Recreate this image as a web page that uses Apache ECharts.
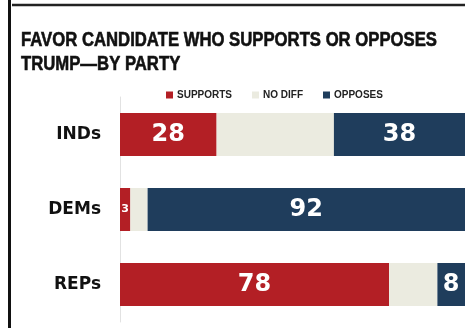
<!DOCTYPE html>
<html><head><meta charset="utf-8">
<script src="https://cdn.jsdelivr.net/npm/echarts@6/dist/echarts.min.js"></script>
<style>html,body{margin:0;padding:0;background:#fff}#c{width:465px;height:328px}</style>
</head><body><div id="c"></div>
<script>
const titleText = "FAVOR CANDIDATE WHO SUPPORTS OR OPPOSES\nTRUMP\u2014BY PARTY";
const categories = ["INDs", "DEMs", "REPs"];
const supports = [28, 3, 78];
const noDiff = [34, 5, 14];
const opposes = [38, 92, 8];
const seriesNames = ["SUPPORTS", "NO DIFF", "OPPOSES"];

const colors = ["#B31F25", "#EBEBE0", "#1F3D5C"];
const chart = echarts.init(document.getElementById('c'), null, {renderer: 'canvas'});

function lab() {
  return {
    show: true, position: 'inside', color: '#fff',
    fontFamily: 'DejaVu Sans', fontWeight: 'bold',
    fontSize: 24,
    formatter: p => String(p.value),
  };
}
const supportData = supports.map(v => ({
  value: v,
  label: v < 10 ? {fontSize: 11} : {}
}));
const opposeData = opposes.map(v => ({value: v}));

chart.setOption({
  animation: false,
  legend: {
    data: seriesNames, left: 161, top: 85, itemWidth: 7, itemHeight: 7, itemGap: 20,
    icon: 'rect',
    textStyle: {fontFamily: 'Liberation Sans', fontWeight: 'bold', fontSize: 10, color: '#222', padding: [0,0,0,-1]}
  },
  grid: {left: 120, right: -1, top: 97, bottom: 6, containLabel: false},
  xAxis: {type: 'value', min: 0, max: 100, show: false},
  yAxis: {
    type: 'category', data: categories, inverse: true,
    axisLine: {show: true, lineStyle: {color: '#e2e2e2', width: 1}},
    axisTick: {show: false},
    axisLabel: {fontFamily: 'DejaVu Sans', fontWeight: 'bold', fontSize: 17, color: '#111', margin: 19}
  },
  series: [
    {name: seriesNames[0], type: 'bar', stack: 't', data: supportData, barWidth: 43,
     itemStyle: {color: colors[0]}, label: lab()},
    {name: seriesNames[1], type: 'bar', stack: 't', data: noDiff, barWidth: 43,
     itemStyle: {color: colors[1]}, label: {show: false}},
    {name: seriesNames[2], type: 'bar', stack: 't', data: opposeData, barWidth: 43,
     itemStyle: {color: colors[2]}, label: lab()}
  ],
  graphic: [
    {type: 'line', shape: {x1: 9.5, y1: 0, x2: 9.5, y2: 328}, style: {stroke: '#111', lineWidth: 3}},
    {type: 'line', shape: {x1: 12, y1: 5, x2: 465, y2: 5}, style: {stroke: '#222', lineWidth: 2.5}},
    {type: 'text', x: 21, y: 28, scaleX: 0.835,
     style: {text: titleText, font: 'bold 20px "Liberation Sans"', fontFamily: 'Liberation Sans', fontWeight: 'bold', fontSize: 20, lineHeight: 24, fill: '#111', stroke: '#111', lineWidth: 0.6, verticalAlign: 'top'}}
  ]
});
</script></body></html>
